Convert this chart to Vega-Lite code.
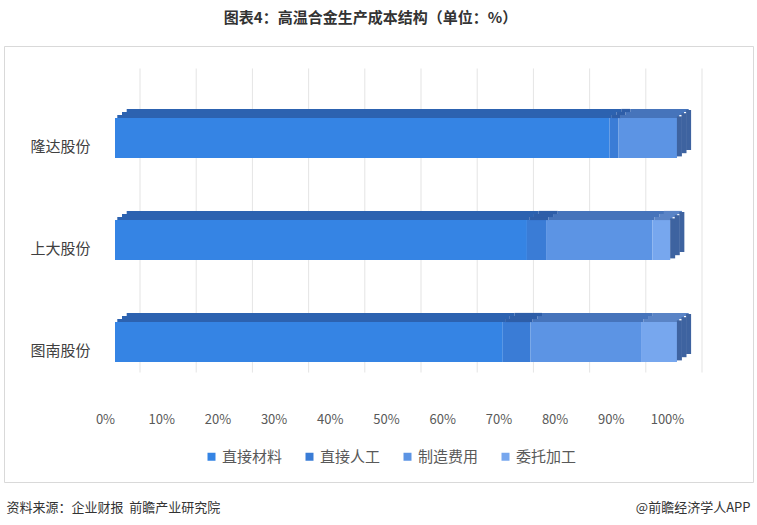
{
  "$schema": "https://vega.github.io/schema/vega-lite/v6.json",
  "width": 749,
  "height": 436,
  "autosize": {"type": "none"},
  "padding": {"left": 4, "top": 46, "right": 4, "bottom": 43},
  "background": "white",
  "config": {
    "view": {"stroke": "#d9d9d9", "strokeWidth": 1},
    "font": "Noto Sans CJK SC"
  },
  "title": {
    "text": "图表4：高温合金生产成本结构（单位：%）",
    "fontSize": 15,
    "fontWeight": "bold",
    "color": "#333333",
    "anchor": "middle",
    "offset": 20,
    "dx": -8,
    "font": "Noto Sans CJK SC"
  },
  "data": {
    "values": [
      {"company": "隆达股份", "cat": "直接材料", "v": 88.0, "o": 1},
      {"company": "隆达股份", "cat": "直接人工", "v": 1.6, "o": 2},
      {"company": "隆达股份", "cat": "制造费用", "v": 10.4, "o": 3},
      {"company": "上大股份", "cat": "直接材料", "v": 73.3, "o": 1},
      {"company": "上大股份", "cat": "直接人工", "v": 3.4, "o": 2},
      {"company": "上大股份", "cat": "制造费用", "v": 18.9, "o": 3},
      {"company": "上大股份", "cat": "委托加工", "v": 3.2, "o": 4},
      {"company": "图南股份", "cat": "直接材料", "v": 69.0, "o": 1},
      {"company": "图南股份", "cat": "直接人工", "v": 4.9, "o": 2},
      {"company": "图南股份", "cat": "制造费用", "v": 19.7, "o": 3},
      {"company": "图南股份", "cat": "委托加工", "v": 6.4, "o": 4}
    ]
  },
  "layer": [
    {
      "data": {"values": [{"v": 0}, {"v": 10}, {"v": 20}, {"v": 30}, {"v": 40}, {"v": 50}, {"v": 60}, {"v": 70}, {"v": 80}, {"v": 90}, {"v": 100}]},
      "mark": {"type": "tick", "orient": "vertical", "thickness": 1, "size": 304, "color": "#d9d9d9", "xOffset": 25, "yOffset": -43.5},
      "encoding": {
        "x": {
          "field": "v", "type": "quantitative",
          "scale": {"domain": [0, 100], "range": [111, 673], "nice": false, "zero": false},
          "axis": {
            "values": [0, 10, 20, 30, 40, 50, 60, 70, 80, 90, 100],
            "labelExpr": "datum.value + '%'",
            "domain": false, "ticks": false, "grid": false, "labelFlush": false, "labelOverlap": false,
            "labelFontSize": 13, "labelColor": "#595959", "labelPadding": 2, "labelOffset": -10, "offset": -71,
            "title": "资料来源：企业财报\u00a0\u00a0前瞻产业研究院",
            "titleX": 2, "titleY": 96, "titleAlign": "left", "titleBaseline": "middle", "titleAnchor": "start",
            "titleFontSize": 13, "titleFontWeight": "normal", "titleColor": "#333333"
          }
        }
      }
    },
    {
      "mark": {"type": "bar"},
      "encoding": {
        "y": {
          "field": "company", "type": "nominal", "sort": null,
          "scale": {"domain": ["隆达股份", "上大股份", "图南股份"], "range": [41, 347], "paddingInner": 0.6078, "paddingOuter": 0.3039},
          "axis": {
            "title": "@前瞻经济学人APP",
            "titleAngle": 0, "titleAlign": "right", "titleBaseline": "middle",
            "titleX": 660, "titleY": 461, "titleFontSize": 13, "titleFontWeight": "normal", "titleColor": "#333333",
            "domain": false, "ticks": false, "grid": false,
            "labelFontSize": 15, "labelColor": "#404040", "labelPadding": 0, "offset": -86, "labelOffset": 9
          }
        },
        "x": {
          "field": "v", "type": "quantitative", "stack": "zero",
          "scale": {"domain": [0, 100], "range": [111, 673], "nice": false, "zero": false},
          "axis": {
            "values": [0, 10, 20, 30, 40, 50, 60, 70, 80, 90, 100],
            "labelExpr": "datum.value + '%'",
            "domain": false, "ticks": false, "grid": false, "labelFlush": false, "labelOverlap": false,
            "labelFontSize": 13, "labelColor": "#595959", "labelPadding": 2, "labelOffset": -10, "offset": -71,
            "title": "资料来源：企业财报\u00a0\u00a0前瞻产业研究院",
            "titleX": 2, "titleY": 96, "titleAlign": "left", "titleBaseline": "middle", "titleAnchor": "start",
            "titleFontSize": 13, "titleFontWeight": "normal", "titleColor": "#333333"
          }
        },
        "color": {
          "field": "cat", "type": "nominal",
          "scale": {"domain": ["直接材料", "直接人工", "制造费用", "委托加工"], "range": ["#3584e4", "#3a7cd6", "#5c94e4", "#77a7ee"]},
          "legend": {
            "title": null, "orient": "none", "direction": "horizontal", "columns": 4,
            "legendX": 200, "legendY": 403,
            "symbolType": "square", "symbolSize": 64, "symbolStrokeWidth": 0,
            "labelFontSize": 15, "labelColor": "#595959", "labelOffset": 3, "columnPadding": 19
          }
        },
        "order": {"field": "o", "type": "quantitative"}
      }
    },
    {
      "mark": {"type": "bar", "height": 3.2, "xOffset": 2.3, "x2Offset": 2.3, "yOffset": -21.5},
      "encoding": {
        "y": {"field": "company", "type": "nominal", "sort": null},
        "x": {"field": "v", "type": "quantitative", "stack": "zero"},
        "fill": {"field": "cat", "type": "nominal", "scale": {"domain": ["直接材料", "直接人工", "制造费用", "委托加工"], "range": ["#2c62b0", "#2e5ea8", "#4674bb", "#5a84c6"]}, "legend": null},
        "order": {"field": "o", "type": "quantitative"}
      }
    },
    {
      "mark": {"type": "bar", "height": 3.2, "xOffset": 7, "x2Offset": 7, "yOffset": -24.5},
      "encoding": {
        "y": {"field": "company", "type": "nominal", "sort": null},
        "x": {"field": "v", "type": "quantitative", "stack": "zero"},
        "fill": {"field": "cat", "type": "nominal", "scale": {"domain": ["直接材料", "直接人工", "制造费用", "委托加工"], "range": ["#2c62b0", "#2e5ea8", "#4674bb", "#5a84c6"]}, "legend": null},
        "order": {"field": "o", "type": "quantitative"}
      }
    },
    {
      "mark": {"type": "bar", "height": 3.2, "xOffset": 11.7, "x2Offset": 11.7, "yOffset": -27.5},
      "encoding": {
        "y": {"field": "company", "type": "nominal", "sort": null},
        "x": {"field": "v", "type": "quantitative", "stack": "zero"},
        "fill": {"field": "cat", "type": "nominal", "scale": {"domain": ["直接材料", "直接人工", "制造费用", "委托加工"], "range": ["#2c62b0", "#2e5ea8", "#4674bb", "#5a84c6"]}, "legend": null},
        "order": {"field": "o", "type": "quantitative"}
      }
    },
    {
      "mark": {"type": "tick", "orient": "vertical", "thickness": 5, "size": 40, "color": "#3e63a0", "xOffset": 2.4, "yOffset": -1.6},
      "encoding": {
        "y": {"field": "company", "type": "nominal", "sort": null},
        "x": {"aggregate": "sum", "field": "v", "type": "quantitative"}
      }
    },
    {
      "mark": {"type": "tick", "orient": "vertical", "thickness": 5, "size": 40, "color": "#3e63a0", "xOffset": 7, "yOffset": -4.8},
      "encoding": {
        "y": {"field": "company", "type": "nominal", "sort": null},
        "x": {"aggregate": "sum", "field": "v", "type": "quantitative"}
      }
    },
    {
      "mark": {"type": "tick", "orient": "vertical", "thickness": 5, "size": 40, "color": "#3e63a0", "xOffset": 11.6, "yOffset": -8},
      "encoding": {
        "y": {"field": "company", "type": "nominal", "sort": null},
        "x": {"aggregate": "sum", "field": "v", "type": "quantitative"}
      }
    }
  ]
}
